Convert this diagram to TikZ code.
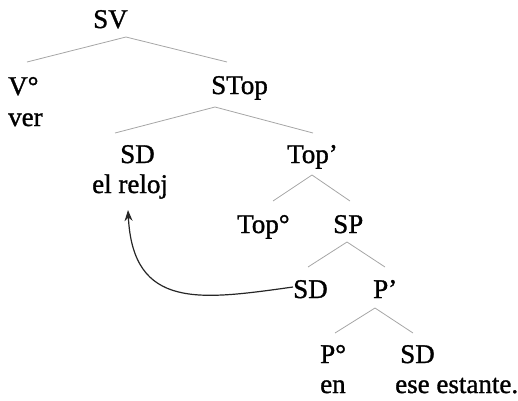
\documentclass[tikz,border=0pt]{standalone}
\usepackage{fontspec}
\newfontfamily\treefont{Liberation Serif}[FakeBold=1.2]
\usetikzlibrary{arrows.meta}
\begin{document}
\begin{tikzpicture}[x=1pt,y=-1pt,
  lab/.style={anchor=base west,inner sep=0pt,font=\treefont\fontsize{27}{30}\selectfont},
  branch/.style={draw=gray!70,line width=0.8pt},
  mvarrow/.style={draw=black!85,line width=1.2pt,-{Stealth[length=11pt,width=8pt]}}]
\useasboundingbox (0,0) rectangle (518,400);
% labels
\node[lab] (sv) at (93,28) {SV};
\node[lab] (v) at (8,95) {V°};
\node[lab] (ver) at (8,126) {ver};
\node[lab] (stop) at (211,94) {STop};
\node[lab] (sd1) at (120,163) {SD};
\node[lab] (reloj) at (92,193) {el reloj};
\node[lab] (topb) at (287,163) {Top’};
\node[lab] (topo) at (237,233) {Top°};
\node[lab] (sp) at (333,233) {SP};
\node[lab] (sd2) at (293,298) {SD};
\node[lab] (pb) at (373,298) {P’};
\node[lab] (po) at (320,363) {P°};
\node[lab] (sd3) at (400,363) {SD};
\node[lab] (en) at (320,393) {en};
\node[lab] (estante) at (395,393) {ese estante.};
% branch end points
\coordinate (svB) at (126,37);
\coordinate (vT) at (27,62);
\coordinate (stopT) at (227,62);
\coordinate (stopB) at (215,107);
\coordinate (sd1T) at (115,133);
\coordinate (topbT) at (313,133);
\coordinate (topbB) at (312,175);
\coordinate (topoT) at (273,201);
\coordinate (spT) at (350,201);
\coordinate (spB) at (347,242);
\coordinate (sd2T) at (308,267);
\coordinate (pbT) at (385,267);
\coordinate (pbB) at (375,308);
\coordinate (poT) at (335,333);
\coordinate (sd3T) at (413,333);
\coordinate (arrTip) at (128,210);
\coordinate (arrStart) at (293,287);
% branches
\draw[branch] (vT) -- (svB) -- (stopT);
\draw[branch] (sd1T) -- (stopB) -- (topbT);
\draw[branch] (topoT) -- (topbB) -- (spT);
\draw[branch] (sd2T) -- (spB) -- (pbT);
\draw[branch] (poT) -- (pbB) -- (sd3T);
% movement arrow
\draw[mvarrow] (arrStart) .. controls (200,300) and (133,310) .. (arrTip);
\end{tikzpicture}
\end{document}
